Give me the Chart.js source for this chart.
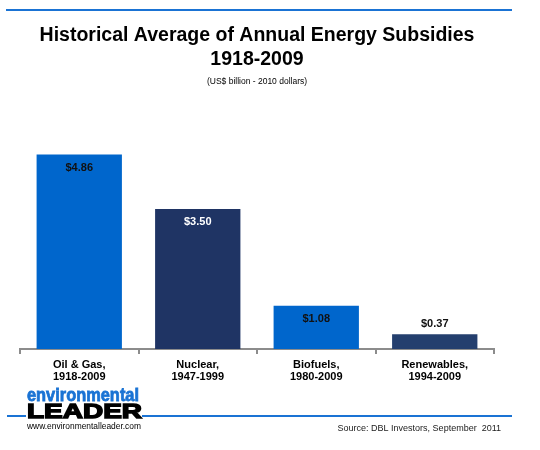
<!DOCTYPE html>
<html>
<head>
<meta charset="utf-8">
<script src="https://cdn.jsdelivr.net/npm/chart.js@4"></script>
<style>
  body{margin:0;background:#fff;}
  #wrap{width:540px;height:450px;}
</style>
</head>
<body>
<div id="wrap"><canvas id="chart" width="540" height="450"></canvas></div>
<script>
// data
const categories=[['Oil & Gas,','1918-2009'],['Nuclear,','1947-1999'],['Biofuels,','1980-2009'],['Renewables,','1994-2009']];
const subsidies=[4.86,3.50,1.08,0.37];
const titleLines=['Historical Average of Annual Energy Subsidies','1918-2009'];
const subtitleText='(US$ billion - 2010 dollars)';
const sourceText='Source: DBL Investors, September  2011';

const barColors=['#0066cc','#1f3464','#0066cc','#243f6e'];
const labelColors=['#111','#fff','#111','#111'];
const FONT='"Liberation Sans", Arial, sans-serif';

// fits text to a width by scaling horizontally
function fitText(ctx,txt,x,y,w,font,color){
  ctx.save(); ctx.font=font; ctx.fillStyle=color; ctx.textBaseline='alphabetic'; ctx.textAlign='left';
  const m=ctx.measureText(txt).width; ctx.translate(x,y); ctx.scale(w/m,1); ctx.fillText(txt,0,0); ctx.restore();
}

const decor={
  id:'decor',
  afterDatasetsDraw(chart){
    const ctx=chart.ctx; const meta=chart.getDatasetMeta(0);
    ctx.save(); ctx.font='bold 11px '+FONT; ctx.textAlign='center'; ctx.textBaseline='middle';
    meta.data.forEach((bar,i)=>{
      const v=subsidies[i]; const txt='$'+v.toFixed(2);
      if(v>1){ctx.fillStyle=labelColors[i]; ctx.fillText(txt,bar.x,bar.y+13);}
      else{ctx.fillStyle='#111'; ctx.fillText(txt,bar.x,bar.y-10);}
    });
    ctx.restore();
  },
  afterDraw(chart){
    const ctx=chart.ctx;
    ctx.save();
    ctx.fillStyle='#1a73d4';
    ctx.fillRect(6,9,506,2);
    ctx.fillRect(7,415,19,2);
    ctx.fillRect(142,415,370,2);
    // logo
    ctx.save(); ctx.strokeStyle='#1a73d4'; ctx.lineWidth=0.8;
    ctx.font='bold 19px '+FONT; let m=ctx.measureText('environmental').width;
    ctx.translate(27,401); ctx.scale(112/m,1); ctx.fillStyle='#1a73d4'; ctx.fillText('environmental',0,0); ctx.strokeText('environmental',0,0);
    ctx.restore();
    ctx.save(); ctx.strokeStyle='#000'; ctx.lineWidth=1.4;
    ctx.font='bold 21px '+FONT; m=ctx.measureText('LEADER').width;
    ctx.translate(27,418); ctx.scale(115/m,1); ctx.fillStyle='#000'; ctx.fillText('LEADER',0,0); ctx.strokeText('LEADER',0,0);
    ctx.restore();
    fitText(ctx,'www.environmentalleader.com',27,429,114,'8.5px '+FONT,'#000');
    ctx.font='9px '+FONT; ctx.fillStyle='#222'; ctx.textAlign='right'; ctx.textBaseline='alphabetic';
    ctx.fillText(sourceText,501,431);
    ctx.restore();
  }
};

new Chart(document.getElementById('chart'),{
  type:'bar',
  data:{labels:categories,datasets:[{data:subsidies,backgroundColor:barColors,barPercentage:0.72,categoryPercentage:1}]},
  options:{
    responsive:false,animation:false,
    layout:{padding:{left:20,right:46,top:24,bottom:0}},
    plugins:{
      legend:{display:false},tooltip:{enabled:false},
      title:{display:true,text:titleLines,color:'#000',font:{family:FONT,size:19.5,weight:'bold',lineHeight:1.23},padding:{top:0,bottom:0}},
      subtitle:{display:true,text:subtitleText,color:'#000',font:{family:FONT,size:8.5,lineHeight:1.2},padding:{top:5,bottom:61.8}}
    },
    scales:{
      y:{display:false,min:0,max:5},
      x:{
        afterFit(s){s.height=101;},
        border:{display:true,color:'#8c8c8c',width:2},
        grid:{offset:true,drawOnChartArea:false,drawTicks:true,tickLength:5,color:'#8c8c8c',lineWidth:2},
        ticks:{color:'#000',padding:5,font:{family:FONT,size:11,weight:'bold',lineHeight:1.1}}
      }
    }
  },
  plugins:[decor]
});
</script>
</body>
</html>
